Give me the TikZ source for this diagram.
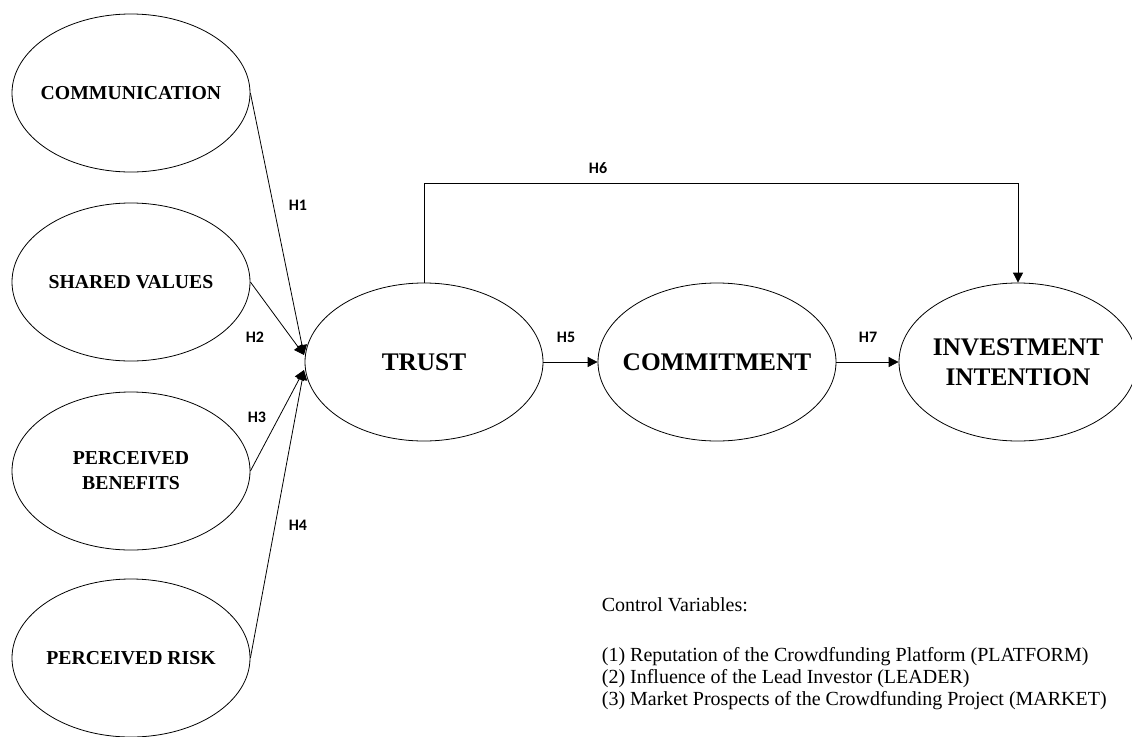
\documentclass[tikz,border=0pt]{standalone}
\usepackage{fontspec}
\setmainfont{Liberation Serif}
\newfontfamily\hypfont{Carlito}
\usetikzlibrary{arrows.meta,shapes.geometric,positioning}

\begin{document}
\begin{tikzpicture}[x=0.75pt,y=-0.75pt,line width=0.6pt,
  var/.style={ellipse,draw,minimum width=178.5pt,minimum height=118.5pt,
    inner xsep=-30pt,inner ysep=0pt,align=center,font=\bfseries\fontsize{14.8}{18.75}\selectfont},
  bigvar/.style={var,font=\bfseries\fontsize{19}{22.5}\selectfont},
  hyp/.style={font=\hypfont\bfseries\fontsize{12}{13}\selectfont},
  link/.style={-{Triangle[length=7.5pt,width=7.5pt]}}]
  \useasboundingbox (0,0) rectangle (1132,736);
  % constructs
  \node[var] (comm) at (131,93) {COMMUNICATION};
  \node[var] (shared) at (131,282) {SHARED VALUES};
  \node[var] (benef) at (131,471) {PERCEIVED\\BENEFITS};
  \node[var] (risk) at (131,658) {PERCEIVED RISK};
  \node[bigvar] (trust) at (424,362) {TRUST};
  \node[bigvar] (commit) at (717,362) {COMMITMENT};
  \node[bigvar] (inv) at (1018,362) {INVESTMENT\\INTENTION};
  \coordinate (tin1) at (304,355);
  \coordinate (tin2) at (304,370);
  % paths
  \draw[link] (comm.east) -- (tin1);
  \draw[link] (shared.east) -- (tin1);
  \draw[link] (benef.east) -- (tin2);
  \draw[link] (risk.east) -- (tin2);
  \draw[link] (trust.east) -- (commit.west);
  \draw[link] (commit.east) -- (inv.west);
  \draw[link] (trust.north) -- ++(0,-99) -| (inv.north);
  % hypotheses
  \node[hyp] (h1) at (298,205) {H1};
  \node[hyp] (h2) at (255,337) {H2};
  \node[hyp] (h3) at (257,417) {H3};
  \node[hyp] (h4) at (298,525) {H4};
  \node[hyp] (h5) at (566,337) {H5};
  \node[hyp] (h6) at (598,168) {H6};
  \node[hyp] (h7) at (868,337) {H7};
  % controls
  \node[anchor=west,font=\fontsize{15}{16.5}\selectfont] (ctrl) at (597,605) {Control Variables:};
  \node[below=19pt of ctrl.south west,anchor=north west,align=left,
    font=\fontsize{15}{16.5}\selectfont] (cvars)
    {(1) Reputation of the Crowdfunding Platform (PLATFORM)\\
     (2) Influence of the Lead Investor (LEADER)\\
     (3) Market Prospects of the Crowdfunding Project (MARKET)};
\end{tikzpicture}
\end{document}
